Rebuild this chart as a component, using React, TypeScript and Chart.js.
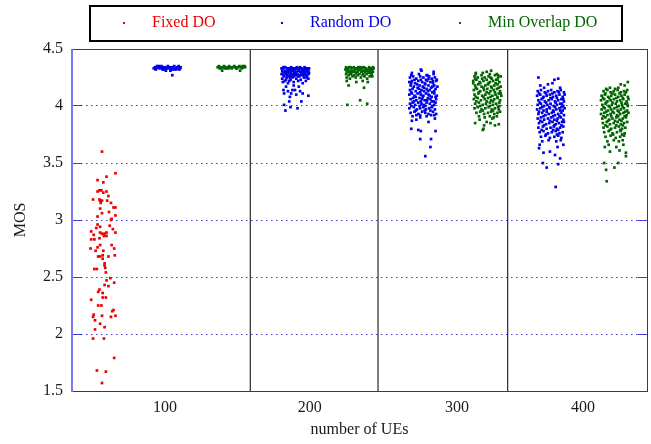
import React, { useEffect, useRef } from "react";
import { Chart, registerables } from "chart.js";
Chart.register(...registerables);

// ---------- data ----------
const xCategories = ["100", "200", "300", "400"];
const xTickPositions = [1.455, 3.72, 6.025, 8.0];
const groupSeparators = [2.79, 4.79, 6.82];
const yTickValues = [1.5, 2, 2.5, 3, 3.5, 4, 4.5];
const fixedCenter = 0.5;
const randomCenters = [1.5, 3.5, 5.5, 7.5];
const minOverlapCenters = [2.5, 4.5, 6.5, 8.5];
const seriesNames = ["Fixed DO", "Random DO", "Min Overlap DO"];
const seriesColors = ["#ee0000", "#0000e6", "#006400"];

// [jitter, MOS]
const fixedDO: [number, number][] = [
  [-0.03,3.60],[0.18,3.41],[0.04,3.38],[-0.10,3.35],[-0.01,3.33],[-0.10,3.25],[-0.07,3.26],[-0.04,3.26],[-0.01,3.24],[0.04,3.25],
  [0.07,3.21],[-0.17,3.18],[-0.07,3.18],[-0.06,3.17],[-0.03,3.17],[-0.05,3.15],[0.05,3.17],[0.11,3.15],[0.15,3.11],[0.18,3.11],
  [-0.06,3.10],[0.08,3.07],[-0.03,3.06],[0.18,3.04],[-0.10,3.03],[0.12,3.01],[0.11,3.00],[-0.10,2.96],[-0.06,2.94],[0.09,2.95],
  [-0.12,2.93],[0.14,2.92],[-0.20,2.90],[-0.06,2.89],[-0.03,2.88],[0.01,2.88],[0.04,2.89],[0.18,2.89],[-0.16,2.87],[0.00,2.86],
  [0.04,2.86],[-0.07,2.84],[-0.20,2.83],[-0.15,2.83],[-0.06,2.78],[0.12,2.78],[-0.21,2.75],[-0.10,2.76],[0.16,2.75],[-0.13,2.73],
  [-0.01,2.73],[-0.09,2.68],[-0.06,2.68],[-0.02,2.69],[0.07,2.68],[0.17,2.69],[-0.02,2.66],[0.01,2.62],[0.01,2.60],[0.02,2.58],
  [-0.15,2.57],[-0.11,2.57],[0.03,2.54],[0.10,2.49],[0.04,2.47],[0.16,2.45],[0.01,2.43],[0.07,2.42],[-0.07,2.39],[-0.09,2.37],
  [-0.02,2.36],[-0.20,2.30],[-0.02,2.32],[0.03,2.32],[-0.09,2.25],[-0.04,2.25],[0.13,2.20],[0.15,2.21],[-0.16,2.17],[-0.17,2.15],
  [-0.03,2.16],[0.11,2.15],[0.18,2.16],[-0.14,2.12],[-0.06,2.09],[0.01,2.06],[-0.14,2.04],[-0.17,1.96],[0.00,1.96],[0.16,1.79],
  [-0.11,1.68],[0.03,1.67],[-0.03,1.57],
];

const random100: [number, number][] = [
  [-0.22,4.33],[-0.20,4.34],[-0.18,4.33],[-0.17,4.35],[-0.15,4.34],[-0.13,4.33],[-0.12,4.34],[-0.10,4.35],[-0.09,4.33],[-0.07,4.34],
  [-0.05,4.32],[-0.04,4.34],[-0.02,4.33],[0.00,4.35],[0.01,4.33],[0.03,4.34],[0.04,4.31],[0.06,4.33],[0.07,4.34],[0.09,4.32],
  [0.10,4.35],[0.12,4.33],[0.14,4.34],[0.15,4.33],[0.17,4.35],[0.19,4.33],[0.20,4.34],[-0.19,4.32],[-0.08,4.32],[0.13,4.32],
  [0.07,4.27],[-0.03,4.31],[0.05,4.32],[-0.14,4.35],[0.18,4.32],
];

const minOverlap100: [number, number][] = [
  [-0.22,4.34],[-0.20,4.35],[-0.18,4.34],[-0.16,4.33],[-0.14,4.34],[-0.12,4.35],[-0.10,4.34],[-0.08,4.33],[-0.06,4.34],[-0.04,4.35],
  [-0.02,4.34],[0.00,4.33],[0.02,4.34],[0.04,4.35],[0.06,4.34],[0.08,4.33],[0.10,4.34],[0.12,4.35],[0.14,4.34],[0.16,4.33],
  [0.18,4.34],[0.20,4.35],[0.21,4.34],[-0.15,4.31],[0.13,4.31],[-0.05,4.33],[0.07,4.33],[-0.19,4.33],[0.17,4.35],[-0.11,4.33],
];

const random200: [number, number][] = [
  [-0.22,4.33],[-0.20,4.30],[-0.19,4.27],[-0.21,4.24],[-0.18,4.34],[-0.17,4.22],[-0.16,4.31],[-0.15,4.28],[-0.14,4.25],[-0.13,4.33],
  [-0.12,4.20],[-0.11,4.29],[-0.10,4.26],[-0.09,4.32],[-0.08,4.23],[-0.07,4.34],[-0.06,4.28],[-0.05,4.25],[-0.04,4.31],[-0.03,4.21],
  [-0.02,4.33],[-0.01,4.27],[0.00,4.30],[0.01,4.24],[0.02,4.34],[0.03,4.28],[0.04,4.22],[0.05,4.32],[0.06,4.26],[0.07,4.30],
  [0.08,4.23],[0.09,4.33],[0.10,4.27],[0.11,4.20],[0.12,4.31],[0.13,4.25],[0.14,4.34],[0.15,4.28],[0.16,4.22],[0.17,4.30],
  [0.18,4.26],[0.19,4.33],[0.20,4.24],[0.21,4.29],
  [-0.21,4.31],[-0.19,4.34],[-0.17,4.29],[-0.15,4.23],[-0.13,4.27],[-0.11,4.33],[-0.09,4.25],[-0.07,4.29],[-0.05,4.33],[-0.03,4.26],
  [-0.01,4.32],[0.01,4.29],[0.03,4.33],[0.05,4.27],[0.07,4.34],[0.09,4.28],[0.11,4.32],[0.13,4.29],[0.15,4.33],[0.17,4.25],
  [0.19,4.30],[0.21,4.33],[-0.20,4.21],[-0.14,4.30],[-0.08,4.31],[-0.02,4.29],[0.04,4.31],[0.10,4.30],[0.16,4.32],[0.20,4.31],
  [-0.22,4.28],[-0.18,4.26],[-0.16,4.34],[-0.12,4.31],[-0.10,4.22],[-0.06,4.32],[-0.04,4.27],[0.00,4.33],[0.02,4.27],[0.06,4.33],
  [0.08,4.30],[0.12,4.27],[0.14,4.31],[0.18,4.33],[0.20,4.28],[-0.20,4.33],[-0.08,4.27],[0.04,4.26],[0.16,4.27],[0.10,4.33],
  [-0.19,4.14],[-0.18,4.11],[-0.15,4.17],[-0.12,4.13],[-0.09,4.08],[-0.07,4.11],[-0.05,4.14],[-0.03,4.18],[-0.01,4.14],[0.01,4.10],
  [0.05,4.17],[0.07,4.13],[0.11,4.11],[0.20,4.09],[-0.10,4.04],[-0.18,4.01],[-0.08,3.99],[0.03,3.98],[0.09,4.04],[-0.16,3.96],
];

const minOverlap200: [number, number][] = [
  [-0.22,4.32],[-0.21,4.28],[-0.20,4.25],[-0.19,4.33],[-0.18,4.30],[-0.17,4.27],[-0.16,4.34],[-0.15,4.24],[-0.14,4.31],[-0.13,4.28],
  [-0.12,4.33],[-0.11,4.26],[-0.10,4.30],[-0.09,4.34],[-0.08,4.27],[-0.07,4.32],[-0.06,4.25],[-0.05,4.29],[-0.04,4.33],[-0.03,4.27],
  [-0.02,4.31],[-0.01,4.34],[0.00,4.28],[0.01,4.32],[0.02,4.25],[0.03,4.30],[0.04,4.33],[0.05,4.27],[0.06,4.31],[0.07,4.34],
  [0.08,4.26],[0.09,4.30],[0.10,4.33],[0.11,4.28],[0.12,4.24],[0.13,4.32],[0.14,4.29],[0.15,4.34],[0.16,4.26],[0.17,4.31],
  [0.18,4.33],[0.19,4.28],[0.20,4.32],[0.21,4.30],[0.22,4.33],
  [-0.21,4.34],[-0.18,4.32],[-0.15,4.29],[-0.12,4.30],[-0.09,4.31],[-0.06,4.33],[-0.03,4.30],[0.00,4.33],[0.03,4.34],[0.06,4.28],
  [0.09,4.33],[0.12,4.31],[0.15,4.30],[0.18,4.29],[0.21,4.34],[-0.20,4.30],[-0.14,4.34],[-0.08,4.30],[-0.02,4.34],[0.04,4.30],
  [0.10,4.31],[0.16,4.33],[0.20,4.26],
  [-0.20,4.22],[0.13,4.21],[0.05,4.22],[-0.05,4.21],
  [-0.17,4.18],[0.07,4.16],[0.01,4.05],[-0.19,4.01],[0.12,4.02],
];

const random300: [number, number][] = [
  [-0.21,4.25],[-0.16,4.26],[-0.11,4.24],[-0.05,4.26],[0.00,4.25],[0.04,4.23],[0.09,4.26],[0.13,4.24],[0.18,4.25],[0.21,4.23],
  [-0.22,4.21],[-0.18,4.22],[-0.13,4.20],[-0.08,4.22],[-0.02,4.21],[0.02,4.20],[0.06,4.22],[0.11,4.21],[0.15,4.20],[0.20,4.22],
  [-0.20,4.18],[-0.15,4.17],[-0.10,4.19],[-0.06,4.18],[-0.01,4.17],[0.03,4.19],[0.08,4.18],[0.12,4.16],[0.17,4.18],[0.22,4.17],
  [-0.21,4.14],[-0.17,4.15],[-0.12,4.13],[-0.07,4.15],[-0.03,4.14],[0.01,4.13],[0.05,4.15],[0.10,4.14],[0.14,4.12],[0.19,4.15],
  [-0.22,4.10],[-0.18,4.11],[-0.14,4.09],[-0.09,4.11],[-0.04,4.10],[0.00,4.09],[0.04,4.11],[0.08,4.10],[0.13,4.08],[0.17,4.11],[0.21,4.09],
  [-0.20,4.06],[-0.16,4.07],[-0.11,4.05],[-0.06,4.07],[-0.02,4.06],[0.02,4.05],[0.07,4.07],[0.11,4.06],[0.16,4.04],[0.20,4.06],
  [-0.21,4.02],[-0.17,4.03],[-0.13,4.01],[-0.08,4.03],[-0.03,4.02],[0.01,4.01],[0.05,4.03],[0.10,4.02],[0.14,4.00],[0.19,4.03],
  [-0.22,3.98],[-0.15,3.99],[-0.10,3.97],[-0.05,3.98],[0.00,3.99],[0.04,3.97],[0.09,3.98],[0.13,3.99],[0.18,3.97],
  [-0.20,3.94],[-0.14,3.95],[-0.08,3.93],[-0.02,3.95],[0.03,3.94],[0.08,3.93],[0.15,3.95],[0.20,3.93],
  [-0.17,3.91],[-0.11,3.92],[0.05,3.91],[0.12,3.92],
  [-0.19,4.27],[-0.07,4.28],[0.06,4.27],[0.16,4.28],[-0.14,4.23],[-0.04,4.23],[0.08,4.24],[0.15,4.22],[-0.19,4.20],[-0.09,4.16],
  [0.01,4.16],[0.14,4.17],[-0.19,4.12],[-0.05,4.12],[0.07,4.13],[0.17,4.13],[-0.12,4.08],[-0.01,4.08],[0.10,4.09],[0.19,4.08],
  [-0.15,4.04],[-0.04,4.04],[0.06,4.05],[0.13,4.04],[-0.19,4.00],[-0.06,4.00],[0.03,4.00],[0.17,4.01],[-0.12,3.96],[0.02,3.96],
  [0.11,3.96],[-0.05,3.92],[0.17,3.92],
  [-0.18,4.29],[-0.04,4.32],[-0.03,4.31],[0.16,4.30],[0.05,4.27],
  [-0.18,3.87],[-0.11,3.88],[-0.05,3.90],[0.08,3.86],[0.18,3.89],[-0.19,3.80],[-0.08,3.79],[-0.04,3.78],[0.19,3.78],[-0.05,3.71],
  [0.12,3.71],[0.11,3.64],[0.03,3.56],
];

const minOverlap300: [number, number][] = [
  [-0.20,4.26],[-0.15,4.25],[-0.09,4.27],[-0.04,4.25],[0.02,4.26],[0.07,4.24],[0.12,4.27],[0.17,4.25],[0.21,4.26],
  [-0.22,4.22],[-0.17,4.23],[-0.12,4.21],[-0.06,4.22],[-0.01,4.23],[0.04,4.21],[0.09,4.22],[0.14,4.23],[0.19,4.21],
  [-0.19,4.18],[-0.14,4.19],[-0.09,4.17],[-0.03,4.18],[0.01,4.19],[0.06,4.17],[0.11,4.18],[0.16,4.19],[0.21,4.17],
  [-0.21,4.14],[-0.16,4.15],[-0.11,4.13],[-0.05,4.14],[0.00,4.15],[0.05,4.13],[0.10,4.14],[0.15,4.15],[0.20,4.13],
  [-0.20,4.10],[-0.14,4.11],[-0.08,4.09],[-0.03,4.10],[0.03,4.11],[0.08,4.09],[0.13,4.10],[0.18,4.11],[0.22,4.09],
  [-0.21,4.06],[-0.15,4.07],[-0.10,4.05],[-0.04,4.06],[0.01,4.07],[0.06,4.05],[0.11,4.06],[0.16,4.07],[0.20,4.05],
  [-0.19,4.02],[-0.13,4.03],[-0.07,4.01],[-0.02,4.02],[0.04,4.03],[0.09,4.01],[0.14,4.02],[0.19,4.03],
  [-0.20,3.98],[-0.15,3.99],[-0.09,3.97],[-0.03,3.98],[0.02,3.99],[0.07,3.97],[0.12,3.98],[0.17,3.99],
  [-0.17,3.94],[-0.11,3.95],[-0.05,3.93],[0.01,3.94],[0.06,3.95],[0.11,3.93],[0.16,3.94],[0.20,3.95],
  [-0.13,3.91],[-0.04,3.90],[0.04,3.91],[0.10,3.90],[0.15,3.91],
  [-0.18,4.28],[-0.07,4.29],[0.04,4.28],[0.15,4.28],[-0.19,4.24],[-0.08,4.24],[0.05,4.25],[0.16,4.23],[-0.22,4.20],[-0.11,4.20],
  [0.02,4.20],[0.13,4.20],[-0.18,4.16],[-0.06,4.16],[0.07,4.16],[0.18,4.16],[-0.13,4.12],[-0.01,4.12],[0.12,4.12],[0.21,4.11],
  [-0.18,4.08],[-0.06,4.08],[0.05,4.08],[0.16,4.08],[-0.17,4.04],[-0.01,4.04],[0.09,4.04],[0.19,4.00],[-0.11,4.00],[0.04,4.00],
  [-0.07,3.96],[0.09,3.96],[0.18,3.97],
  [0.06,4.31],[-0.18,4.29],[0.17,4.27],[-0.01,4.30],
  [-0.19,3.85],[-0.12,3.88],[-0.05,3.83],[-0.06,3.80],[-0.07,3.79],[-0.01,3.86],[0.05,3.85],[0.12,3.83],[0.18,3.84],[0.08,3.89],
];

const random400: [number, number][] = [
  [-0.21,4.13],[-0.16,4.14],[-0.10,4.12],[-0.05,4.13],[0.00,4.14],[0.05,4.12],[0.10,4.13],[0.15,4.14],[0.20,4.12],
  [-0.22,4.09],[-0.17,4.10],[-0.12,4.08],[-0.07,4.09],[-0.02,4.10],[0.03,4.08],[0.08,4.09],[0.13,4.10],[0.18,4.08],[0.21,4.10],
  [-0.20,4.05],[-0.15,4.06],[-0.10,4.04],[-0.04,4.05],[0.01,4.06],[0.06,4.04],[0.11,4.05],[0.16,4.06],[0.20,4.04],
  [-0.21,4.01],[-0.16,4.02],[-0.11,4.00],[-0.06,4.01],[-0.01,4.02],[0.04,4.00],[0.09,4.01],[0.14,4.02],[0.19,4.00],
  [-0.22,3.97],[-0.17,3.98],[-0.12,3.96],[-0.07,3.97],[-0.02,3.98],[0.03,3.96],[0.08,3.97],[0.13,3.98],[0.18,3.96],[0.21,3.98],
  [-0.20,3.93],[-0.14,3.94],[-0.09,3.92],[-0.04,3.93],[0.01,3.94],[0.06,3.92],[0.11,3.93],[0.16,3.94],[0.20,3.92],
  [-0.21,3.89],[-0.16,3.90],[-0.11,3.88],[-0.05,3.89],[0.00,3.90],[0.05,3.88],[0.10,3.89],[0.15,3.90],[0.19,3.88],
  [-0.19,3.85],[-0.14,3.86],[-0.08,3.84],[-0.03,3.85],[0.02,3.86],[0.07,3.84],[0.12,3.85],[0.17,3.86],
  [-0.20,3.81],[-0.13,3.82],[-0.07,3.80],[-0.01,3.81],[0.04,3.82],[0.09,3.80],[0.14,3.81],[0.19,3.82],
  [-0.18,3.77],[-0.12,3.78],[-0.05,3.76],[0.01,3.77],[0.07,3.78],[0.13,3.76],[0.18,3.77],
  [-0.16,3.73],[-0.09,3.74],[-0.02,3.72],[0.05,3.73],[0.11,3.74],[0.16,3.72],
  [-0.14,3.69],[-0.04,3.70],[0.08,3.69],[0.15,3.70],
  [-0.19,4.11],[-0.08,4.11],[0.02,4.11],[0.12,4.12],[-0.13,4.07],[-0.01,4.07],[0.09,4.07],[0.19,4.06],[-0.18,4.03],[-0.08,4.03],
  [0.07,4.03],[0.17,4.02],[-0.14,3.99],[-0.03,3.99],[0.06,3.99],[0.16,3.99],[-0.19,3.95],[-0.07,3.95],[0.04,3.95],[0.14,3.96],
  [-0.12,3.91],[0.03,3.91],[0.13,3.91],[-0.17,3.87],[-0.02,3.87],[0.09,3.87],[0.20,3.86],[-0.11,3.83],[0.05,3.83],[0.16,3.83],
  [-0.15,3.79],[0.03,3.79],[0.11,3.79],[-0.08,3.75],[0.09,3.75],
  [-0.20,4.25],[0.05,4.23],[0.11,4.24],[-0.05,4.19],[0.02,4.20],[-0.17,4.18],[-0.11,4.16],[0.14,4.16],
  [-0.18,3.66],[-0.12,3.59],[-0.02,3.60],[0.06,3.57],[0.14,3.54],[-0.13,3.50],[-0.07,3.46],[0.11,3.49],[0.07,3.29],[-0.19,3.63],
  [0.10,3.64],[0.19,3.66],
];

const minOverlap400: [number, number][] = [
  [-0.18,4.13],[-0.12,4.14],[-0.07,4.12],[-0.02,4.13],[0.04,4.14],[0.09,4.12],[0.14,4.13],[0.19,4.14],
  [-0.21,4.09],[-0.16,4.10],[-0.11,4.08],[-0.06,4.09],[0.00,4.10],[0.05,4.08],[0.10,4.09],[0.15,4.10],[0.20,4.08],
  [-0.22,4.05],[-0.17,4.06],[-0.12,4.04],[-0.07,4.05],[-0.02,4.06],[0.03,4.04],[0.08,4.05],[0.13,4.06],[0.18,4.04],[0.21,4.06],
  [-0.20,4.01],[-0.15,4.02],[-0.10,4.00],[-0.05,4.01],[0.01,4.02],[0.06,4.00],[0.11,4.01],[0.16,4.02],[0.20,4.00],
  [-0.21,3.97],[-0.16,3.98],[-0.11,3.96],[-0.06,3.97],[-0.01,3.98],[0.04,3.96],[0.09,3.97],[0.14,3.98],[0.19,3.96],
  [-0.22,3.93],[-0.17,3.94],[-0.12,3.92],[-0.07,3.93],[-0.02,3.94],[0.03,3.92],[0.08,3.93],[0.13,3.94],[0.18,3.92],[0.21,3.94],
  [-0.20,3.89],[-0.15,3.90],[-0.09,3.88],[-0.04,3.89],[0.02,3.90],[0.07,3.88],[0.12,3.89],[0.17,3.90],
  [-0.19,3.85],[-0.13,3.86],[-0.08,3.84],[-0.02,3.85],[0.04,3.86],[0.09,3.84],[0.14,3.85],[0.19,3.86],
  [-0.18,3.81],[-0.12,3.82],[-0.06,3.80],[0.00,3.81],[0.06,3.82],[0.11,3.80],[0.16,3.81],
  [-0.17,3.77],[-0.10,3.78],[-0.04,3.76],[0.03,3.77],[0.09,3.78],[0.15,3.76],
  [-0.15,3.73],[-0.07,3.74],[0.01,3.72],[0.08,3.73],[0.14,3.74],
  [-0.12,3.69],[-0.02,3.70],[0.06,3.69],[0.12,3.70],
  [-0.15,4.11],[-0.04,4.11],[0.07,4.11],[0.17,4.12],[-0.19,4.07],[-0.09,4.07],[0.02,4.07],[0.12,4.07],[-0.14,4.03],[-0.04,4.03],
  [0.10,4.03],[0.19,4.02],[-0.18,3.99],[-0.08,3.99],[0.03,3.99],[0.12,3.99],[-0.14,3.95],[-0.04,3.95],[0.06,3.95],[0.16,3.95],
  [-0.18,3.91],[-0.06,3.91],[0.05,3.91],[0.15,3.91],[-0.11,3.87],[0.00,3.87],[0.10,3.87],[-0.15,3.83],[0.02,3.83],[0.12,3.83],
  [-0.08,3.79],[0.08,3.79],[-0.03,3.75],[0.11,3.75],
  [0.20,4.21],[0.09,4.19],[0.00,4.15],[-0.14,4.15],[0.15,4.18],[0.05,4.16],[-0.08,4.16],
  [-0.16,3.64],[-0.08,3.60],[0.02,3.64],[0.07,3.61],[0.17,3.59],[-0.17,3.50],[-0.14,3.44],[-0.01,3.46],[0.05,3.50],[-0.13,3.34],
  [0.17,3.56],[-0.10,3.66],[0.13,3.66],
];

const randomClusters = [random100, random200, random300, random400];
const minOverlapClusters = [minOverlap100, minOverlap200, minOverlap300, minOverlap400];

const toPoints = (pairs: [number, number][], center: number) =>
  pairs.map(([j, v]) => ({ x: center + j, y: v }));

const FONT = "'Liberation Serif', 'Times New Roman', serif";

const framePlugin = {
  id: "frame",
  beforeDatasetsDraw(chart: any) {
    const { ctx, chartArea: a, scales } = chart;
    const xs = scales.x;
    const ys = scales.y;
    ctx.save();
    ctx.lineWidth = 1;
    // dotted grid + inward ticks
    yTickValues.forEach((v) => {
      const py = Math.floor(ys.getPixelForValue(v)) + 0.5;
      ctx.strokeStyle = "rgb(60,60,225)";
      ctx.setLineDash([1.5, 3.5]);
      ctx.beginPath();
      ctx.moveTo(a.left + 9, py);
      ctx.lineTo(a.right - 9, py);
      ctx.stroke();
      ctx.setLineDash([]);
      ctx.beginPath();
      ctx.moveTo(a.left, py);
      ctx.lineTo(a.left + 9, py);
      ctx.moveTo(a.right - 9, py);
      ctx.lineTo(a.right, py);
      ctx.stroke();
    });
    // group separators
    ctx.strokeStyle = "#000";
    groupSeparators.forEach((v) => {
      const px = xs.getPixelForValue(v);
      ctx.beginPath();
      ctx.moveTo(px, a.top);
      ctx.lineTo(px, a.bottom);
      ctx.stroke();
    });
    // border
    ctx.strokeStyle = "rgb(40,40,215)";
    ctx.beginPath();
    ctx.moveTo(a.left, Math.floor(a.top) + 0.5);
    ctx.lineTo(a.right + 1, Math.floor(a.top) + 0.5);
    ctx.moveTo(Math.floor(a.right) + 0.5, a.top);
    ctx.lineTo(Math.floor(a.right) + 0.5, a.bottom + 1);
    ctx.moveTo(a.left, Math.floor(a.bottom) + 0.5);
    ctx.lineTo(a.right + 1, Math.floor(a.bottom) + 0.5);
    ctx.stroke();
    ctx.fillStyle = "rgb(120,120,240)";
    ctx.fillRect(Math.floor(a.left) - 1, a.top, 2, a.bottom - a.top + 1);
    ctx.restore();
  },
};

const legendPlugin = {
  id: "boxLegend",
  afterDraw(chart: any) {
    const { ctx } = chart;
    ctx.save();
    ctx.lineWidth = 2;
    ctx.strokeStyle = "#000";
    ctx.strokeRect(90, 6, 532, 35);
    const markerX = [124, 282, 460];
    ctx.font = `16px ${FONT}`;
    ctx.textBaseline = "middle";
    ctx.textAlign = "left";
    chart.data.datasets.forEach((ds: any, i: number) => {
      ctx.fillStyle = ds.backgroundColor;
      ctx.fillRect(markerX[i] - 1, 22, 2, 2);
      ctx.fillText(ds.label, markerX[i] + 28, 23);
    });
    ctx.restore();
  },
};

export default function App() {
  const ref = useRef<HTMLCanvasElement | null>(null);
  useEffect(() => {
    if (!ref.current) return;
    const fixedData = toPoints(fixedDO, fixedCenter);
    const randomData = randomClusters.flatMap((c, i) => toPoints(c, randomCenters[i]));
    const minData = minOverlapClusters.flatMap((c, i) => toPoints(c, minOverlapCenters[i]));
    const common = {
      pointStyle: "rect",
      pointRadius: 1.9,
      pointHoverRadius: 1.9,
      borderWidth: 0,
      pointBorderWidth: 0,
      showLine: false,
    };
    const chart = new Chart(ref.current, {
      type: "scatter",
      data: {
        datasets: [
          { label: seriesNames[0], data: fixedData, backgroundColor: seriesColors[0], borderColor: seriesColors[0], ...common },
          { label: seriesNames[1], data: randomData, backgroundColor: seriesColors[1], borderColor: seriesColors[1], ...common },
          { label: seriesNames[2], data: minData, backgroundColor: seriesColors[2], borderColor: seriesColors[2], ...common },
        ],
      } as any,
      options: {
        responsive: false,
        animation: false,
        events: [],
        layout: { padding: { left: 0, top: 49, right: 4, bottom: 0 } },
        plugins: { legend: { display: false }, tooltip: { enabled: false } },
        scales: {
          x: {
            type: "linear",
            min: 0,
            max: 9,
            grid: { display: false, drawTicks: false },
            border: { display: false },
            afterBuildTicks: (scale: any) => {
              scale.ticks = xTickPositions.map((v) => ({ value: v }));
            },
            afterFit: (scale: any) => {
              scale.height = 53;
            },
            ticks: {
              autoSkip: false,
              maxRotation: 0,
              padding: 7,
              color: "#1a1a1a",
              font: { family: FONT, size: 16 },
              callback: (v: any) => xCategories[xTickPositions.indexOf(v)] ?? "",
            },
            title: {
              display: true,
              text: "number of UEs",
              color: "#1a1a1a",
              font: { family: FONT, size: 16 },
              padding: { top: 0, bottom: 5 },
            },
          },
          y: {
            type: "linear",
            min: 1.5,
            max: 4.5,
            grid: { display: false, drawTicks: false },
            border: { display: false },
            afterBuildTicks: (scale: any) => {
              scale.ticks = yTickValues.map((v) => ({ value: v }));
            },
            afterFit: (scale: any) => {
              scale.width = 72;
            },
            ticks: {
              padding: 9,
              color: "#1a1a1a",
              font: { family: FONT, size: 16 },
              callback: (v: any) => String(v),
            },
            title: {
              display: true,
              text: "MOS",
              color: "#1a1a1a",
              font: { family: FONT, size: 16 },
              padding: { top: 11, bottom: 0 },
            },
          },
        },
      } as any,
      plugins: [framePlugin, legendPlugin],
    });
    return () => chart.destroy();
  }, []);
  return (
    <div style={{ position: "absolute", left: 0, top: 0, width: 651, height: 444 }}>
      <canvas ref={ref} width={651} height={444} />
    </div>
  );
}
